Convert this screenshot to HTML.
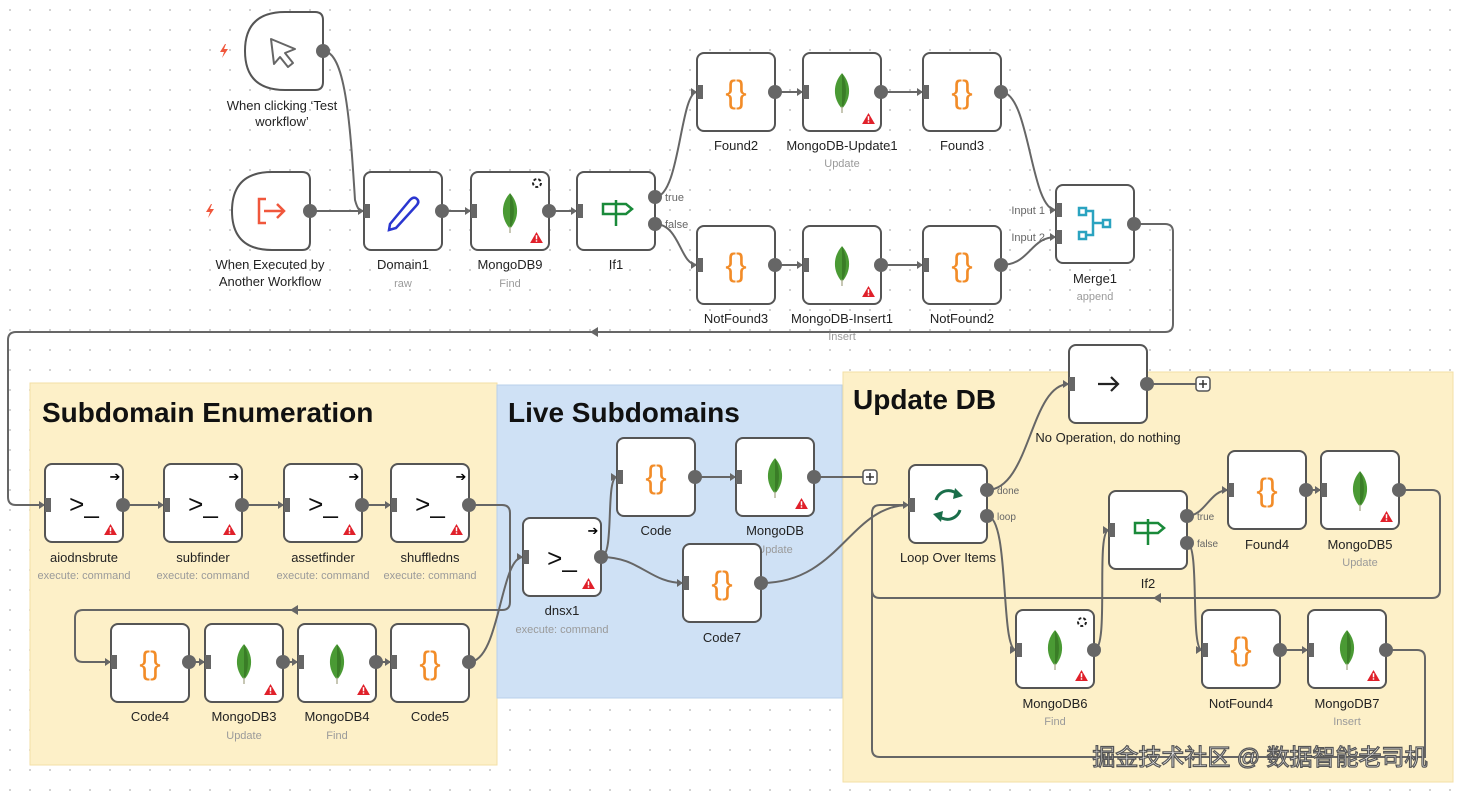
<!DOCTYPE html>
<html><head><meta charset="utf-8"><style>
html,body{margin:0;padding:0;background:#fff}
svg{display:block}
text{font-family:"Liberation Sans",sans-serif}
.l{font-size:13px;fill:#222;text-anchor:middle}
.s{font-size:11px;fill:#9a9a9a;text-anchor:middle}
.h{font-size:11px;fill:#666}
.n{fill:#fff;stroke:#555;stroke-width:2}
.e{fill:none;stroke:#666;stroke-width:2}
.o{fill:#666}
.c{font-size:32px;fill:#f28c28;text-anchor:middle}
.t{font-size:26px;fill:#111;text-anchor:middle}
.g{font-size:28px;fill:#111;font-weight:bold}
</style></head><body>
<svg width="1462" height="793" viewBox="0 0 1462 793" xmlns="http://www.w3.org/2000/svg">
<defs>
<pattern id="dots" width="20" height="20" patternUnits="userSpaceOnUse"><circle cx="10" cy="10" r="1" fill="#c4c4c4"/></pattern>
<symbol id="leaf" viewBox="0 0 20 40"><path d="M10 2 C19 12 19 26 10 36 C1 26 1 12 10 2Z" fill="#4a9a34"/><path d="M10 2 C15 12 15 26 10 36Z" fill="#3a7d27"/><line x1="10" y1="34" x2="10" y2="40" stroke="#b8b8a0" stroke-width="1.5"/></symbol>
<symbol id="warn" viewBox="0 0 14 12"><path d="M7 0 L14 12 L0 12Z" fill="#e0202a"/><rect x="6.2" y="3.5" width="1.6" height="4.5" fill="#fff"/><rect x="6.2" y="9" width="1.6" height="1.6" fill="#fff"/></symbol>
<symbol id="inp" viewBox="0 0 12 14"><path d="M0 3 L6 7 L0 11Z" fill="#666"/><rect x="6" y="0" width="6" height="14" fill="#666"/></symbol>
<symbol id="bolt" viewBox="0 0 10 14"><path d="M6 0 L1 8 L5 8 L3 14 L9 5 L5 5 L7 0Z" fill="#f0573c"/></symbol>
</defs>
<rect width="1462" height="793" fill="url(#dots)"/>
<rect x="30" y="383" width="467" height="382" fill="#fdf0c8" stroke="#f3dfa6"/>
<rect x="497" y="385" width="345" height="313" fill="#cfe1f5" stroke="#b9d0ea"/>
<rect x="843" y="372" width="610" height="410" fill="#fdf0c8" stroke="#f3dfa6"/>
<text x="42" y="422" class="g">Subdomain Enumeration</text>
<text x="508" y="422" class="g">Live Subdomains</text>
<text x="853" y="409" class="g">Update DB</text>

<g class="e">
<path d="M323 51 C345 51 350 120 355 200 C358 211 360 211 364 211"/>
<path d="M310 211 L364 211"/>
<path d="M442 211 L471 211"/>
<path d="M549 211 L577 211"/>
<path d="M655 197 C680 197 680 92 697 92"/>
<path d="M655 224 C680 224 680 265 697 265"/>
<path d="M775 92 L803 92"/><path d="M881 92 L923 92"/>
<path d="M775 265 L803 265"/><path d="M881 265 L923 265"/>
<path d="M1001 92 C1030 92 1030 210 1056 210"/>
<path d="M1001 265 C1030 265 1030 237 1056 237"/>
<path d="M1134 224 L1165 224 Q1173 224 1173 232 L1173 324 Q1173 332 1165 332 L16 332 Q8 332 8 340 L8 497 Q8 505 16 505 L45 505"/>
<path d="M123 505 L164 505"/><path d="M242 505 L284 505"/><path d="M362 505 L391 505"/>
<path d="M469 505 L502 505 Q510 505 510 513 L510 602 Q510 610 502 610 L83 610 Q75 610 75 618 L75 654 Q75 662 83 662 L111 662"/>
<path d="M189 662 L205 662"/><path d="M283 662 L298 662"/><path d="M376 662 L391 662"/>
<path d="M469 662 C500 662 500 557 523 557"/>
<path d="M601 557 C615 557 605 477 617 477"/>
<path d="M601 557 C640 557 650 583 683 583"/>
<path d="M695 477 L736 477"/>
<path d="M814 477 L863 477"/>
<path d="M761 583 C840 583 850 505 909 505"/>
<path d="M987 490 C1030 490 1030 384 1069 384"/>
<path d="M1147 384 L1196 384"/>
<path d="M987 516 C1010 516 1000 650 1016 650"/>
<path d="M1094 650 C1110 650 1095 530 1109 530"/>
<path d="M1187 516 C1205 516 1210 490 1228 490"/>
<path d="M1187 543 C1200 543 1190 650 1202 650"/>
<path d="M1306 490 L1321 490"/>
<path d="M1280 650 L1308 650"/>
<path d="M1399 490 L1432 490 Q1440 490 1440 498 L1440 590 Q1440 598 1432 598 L880 598 Q872 598 872 590 L872 513 Q872 505 880 505 L909 505"/>
<path d="M1386 650 L1417 650 Q1425 650 1425 658 L1425 757 L880 757 Q872 757 872 749 L872 513"/>
</g>
<g fill="#666">
<path d="M590 332 L598 327 L598 337Z"/><path d="M290 610 L298 605 L298 615Z"/><path d="M1153 598 L1161 593 L1161 603Z"/>
</g>
<g fill="#fff" stroke="#555" stroke-width="1.5"><rect x="863" y="470" width="14" height="14" rx="3"/><rect x="1196" y="377" width="14" height="14" rx="3"/></g>
<g stroke="#333" stroke-width="1.5"><path d="M870 473v8M866 477h8M1203 380v8M1199 384h8"/></g>

<path class="n" d="M285 12 L315 12 Q323 12 323 20 L323 82 Q323 90 315 90 L285 90 Q245 90 245 51 Q245 12 285 12Z"/>
<path d="M271 39 L295 49 L285 53 L293 63 L288 67 L280 57 L274 64Z" fill="none" stroke="#666" stroke-width="2" stroke-linejoin="round"/>
<use href="#bolt" x="219" y="44" width="10" height="14"/>
<text x="282" y="110" class="l">When clicking ‘Test</text><text x="282" y="126" class="l">workflow’</text>
<path class="n" d="M272 172 L302 172 Q310 172 310 180 L310 242 Q310 250 302 250 L272 250 Q232 250 232 211 Q232 172 272 172Z"/>
<path d="M266 199 L259 199 L259 223 L266 223 M264 211 L283 211 M277 204 L284 211 L277 218" fill="none" stroke="#f0573c" stroke-width="2.5"/>
<use href="#bolt" x="205" y="204" width="10" height="14"/>
<text x="270" y="269" class="l">When Executed by</text><text x="270" y="286" class="l">Another Workflow</text>

<g>
<rect class="n" x="364" y="172" width="78" height="78" rx="7"/>
<path d="M390 224 L410 200 Q414 196 417 199 Q420 202 416 206 L396 228 L389 230Z" fill="none" stroke="#2a36d0" stroke-width="2.5"/>
<text x="403" y="269" class="l">Domain1</text><text x="403" y="287" class="s">raw</text>

<rect class="n" x="471" y="172" width="78" height="78" rx="7"/><use href="#leaf" x="498" y="191" width="24" height="42"/><use href="#warn" x="530" y="232" width="13" height="11"/>
<circle cx="537" cy="183" r="4" fill="none" stroke="#222" stroke-width="2" stroke-dasharray="3 2"/>
<text x="510" y="269" class="l">MongoDB9</text><text x="510" y="287" class="s">Find</text>

<rect class="n" x="577" y="172" width="78" height="78" rx="7"/>
<path d="M603 204 L626 204 L632 209 L626 214 L603 214Z M616 200 V226" fill="none" stroke="#1a8a3a" stroke-width="2.5"/>
<text x="616" y="269" class="l">If1</text>
<text x="665" y="201" class="h">true</text><text x="665" y="228" class="h">false</text>

<rect class="n" x="697" y="53" width="78" height="78" rx="7"/><text x="736" y="103" class="c">{}</text><text x="736" y="150" class="l">Found2</text>
<rect class="n" x="803" y="53" width="78" height="78" rx="7"/><use href="#leaf" x="830" y="71" width="24" height="42"/><use href="#warn" x="862" y="113" width="13" height="11"/><text x="842" y="150" class="l">MongoDB-Update1</text><text x="842" y="167" class="s">Update</text>
<rect class="n" x="923" y="53" width="78" height="78" rx="7"/><text x="962" y="103" class="c">{}</text><text x="962" y="150" class="l">Found3</text>
<rect class="n" x="697" y="226" width="78" height="78" rx="7"/><text x="736" y="276" class="c">{}</text><text x="736" y="323" class="l">NotFound3</text>
<rect class="n" x="803" y="226" width="78" height="78" rx="7"/><use href="#leaf" x="830" y="244" width="24" height="42"/><use href="#warn" x="862" y="286" width="13" height="11"/><text x="842" y="323" class="l">MongoDB-Insert1</text><text x="842" y="340" class="s">Insert</text>
<rect class="n" x="923" y="226" width="78" height="78" rx="7"/><text x="962" y="276" class="c">{}</text><text x="962" y="323" class="l">NotFound2</text>

<rect class="n" x="1056" y="185" width="78" height="78" rx="7"/>
<g fill="none" stroke="#2aa3c0" stroke-width="2.5"><rect x="1079" y="208" width="7" height="7"/><rect x="1079" y="232" width="7" height="7"/><rect x="1103" y="220" width="7" height="7"/><path d="M1086 211 H1093 V235 H1086 M1093 223 H1103"/></g>
<text x="1095" y="283" class="l">Merge1</text><text x="1095" y="300" class="s">append</text>
<text x="1045" y="214" class="h" text-anchor="end">Input 1</text><text x="1045" y="241" class="h" text-anchor="end">Input 2</text>

<rect class="n" x="45" y="464" width="78" height="78" rx="7"/><text x="84" y="513" class="t">&gt;_</text><text x="115" y="481" font-size="13" text-anchor="middle">➔</text><use href="#warn" x="104" y="524" width="13" height="11"/><text x="84" y="562" class="l">aiodnsbrute</text><text x="84" y="579" class="s">execute: command</text>
<rect class="n" x="164" y="464" width="78" height="78" rx="7"/><text x="203" y="513" class="t">&gt;_</text><text x="234" y="481" font-size="13" text-anchor="middle">➔</text><use href="#warn" x="223" y="524" width="13" height="11"/><text x="203" y="562" class="l">subfinder</text><text x="203" y="579" class="s">execute: command</text>
<rect class="n" x="284" y="464" width="78" height="78" rx="7"/><text x="323" y="513" class="t">&gt;_</text><text x="354" y="481" font-size="13" text-anchor="middle">➔</text><use href="#warn" x="343" y="524" width="13" height="11"/><text x="323" y="562" class="l">assetfinder</text><text x="323" y="579" class="s">execute: command</text>
<rect class="n" x="391" y="464" width="78" height="78" rx="7"/><text x="430" y="513" class="t">&gt;_</text><text x="461" y="481" font-size="13" text-anchor="middle">➔</text><use href="#warn" x="450" y="524" width="13" height="11"/><text x="430" y="562" class="l">shuffledns</text><text x="430" y="579" class="s">execute: command</text>
<rect class="n" x="523" y="518" width="78" height="78" rx="7"/><text x="562" y="567" class="t">&gt;_</text><text x="593" y="535" font-size="13" text-anchor="middle">➔</text><use href="#warn" x="582" y="578" width="13" height="11"/><text x="562" y="615" class="l">dnsx1</text><text x="562" y="633" class="s">execute: command</text>

<rect class="n" x="111" y="624" width="78" height="78" rx="7"/><text x="150" y="674" class="c">{}</text><text x="150" y="721" class="l">Code4</text>
<rect class="n" x="205" y="624" width="78" height="78" rx="7"/><use href="#leaf" x="232" y="642" width="24" height="42"/><use href="#warn" x="264" y="684" width="13" height="11"/><text x="244" y="721" class="l">MongoDB3</text><text x="244" y="739" class="s">Update</text>
<rect class="n" x="298" y="624" width="78" height="78" rx="7"/><use href="#leaf" x="325" y="642" width="24" height="42"/><use href="#warn" x="357" y="684" width="13" height="11"/><text x="337" y="721" class="l">MongoDB4</text><text x="337" y="739" class="s">Find</text>
<rect class="n" x="391" y="624" width="78" height="78" rx="7"/><text x="430" y="674" class="c">{}</text><text x="430" y="721" class="l">Code5</text>

<rect class="n" x="617" y="438" width="78" height="78" rx="7"/><text x="656" y="488" class="c">{}</text><text x="656" y="535" class="l">Code</text>
<rect class="n" x="736" y="438" width="78" height="78" rx="7"/><use href="#leaf" x="763" y="456" width="24" height="42"/><use href="#warn" x="795" y="498" width="13" height="11"/><text x="775" y="535" class="l">MongoDB</text><text x="775" y="553" class="s">Update</text>
<rect class="n" x="683" y="544" width="78" height="78" rx="7"/><text x="722" y="594" class="c">{}</text><text x="722" y="642" class="l">Code7</text>

<rect class="n" x="1069" y="345" width="78" height="78" rx="7"/><path d="M1098 384 H1118 M1111 377 L1118 384 L1111 391" fill="none" stroke="#222" stroke-width="2.2"/><text x="1108" y="442" class="l">No Operation, do nothing</text>
<rect class="n" x="909" y="465" width="78" height="78" rx="7"/>
<g fill="none" stroke="#1a6e4a" stroke-width="3"><path d="M936 500 A13 13 0 0 1 959 496"/><path d="M960 510 A13 13 0 0 1 937 514"/></g>
<path d="M955 488 L963 496 L953 499Z M941 522 L933 514 L943 511Z" fill="#1a6e4a"/>
<text x="948" y="562" class="l">Loop Over Items</text>
<text x="997" y="494" class="h" style="font-size:10px">done</text><text x="997" y="520" class="h" style="font-size:10px">loop</text>

<rect class="n" x="1109" y="491" width="78" height="78" rx="7"/>
<path d="M1135 523 L1158 523 L1164 528 L1158 533 L1135 533Z M1148 519 V545" fill="none" stroke="#1a8a3a" stroke-width="2.5"/>
<text x="1148" y="588" class="l">If2</text>
<text x="1197" y="520" class="h" style="font-size:10px">true</text><text x="1197" y="547" class="h" style="font-size:10px">false</text>

<rect class="n" x="1228" y="451" width="78" height="78" rx="7"/><text x="1267" y="501" class="c">{}</text><text x="1267" y="549" class="l">Found4</text>
<rect class="n" x="1321" y="451" width="78" height="78" rx="7"/><use href="#leaf" x="1348" y="469" width="24" height="42"/><use href="#warn" x="1380" y="511" width="13" height="11"/><text x="1360" y="549" class="l">MongoDB5</text><text x="1360" y="566" class="s">Update</text>
<rect class="n" x="1016" y="610" width="78" height="78" rx="7"/><use href="#leaf" x="1043" y="628" width="24" height="42"/><use href="#warn" x="1075" y="670" width="13" height="11"/><circle cx="1082" cy="622" r="4" fill="none" stroke="#222" stroke-width="2" stroke-dasharray="3 2"/><text x="1055" y="708" class="l">MongoDB6</text><text x="1055" y="725" class="s">Find</text>
<rect class="n" x="1202" y="610" width="78" height="78" rx="7"/><text x="1241" y="660" class="c">{}</text><text x="1241" y="708" class="l">NotFound4</text>
<rect class="n" x="1308" y="610" width="78" height="78" rx="7"/><use href="#leaf" x="1335" y="628" width="24" height="42"/><use href="#warn" x="1367" y="670" width="13" height="11"/><text x="1347" y="708" class="l">MongoDB7</text><text x="1347" y="725" class="s">Insert</text>
</g>

<g class="o">
<circle cx="323" cy="51" r="7"/><circle cx="310" cy="211" r="7"/><circle cx="442" cy="211" r="7"/><circle cx="549" cy="211" r="7"/>
<circle cx="655" cy="197" r="7"/><circle cx="655" cy="224" r="7"/>
<circle cx="775" cy="92" r="7"/><circle cx="881" cy="92" r="7"/><circle cx="1001" cy="92" r="7"/>
<circle cx="775" cy="265" r="7"/><circle cx="881" cy="265" r="7"/><circle cx="1001" cy="265" r="7"/>
<circle cx="1134" cy="224" r="7"/>
<circle cx="123" cy="505" r="7"/><circle cx="242" cy="505" r="7"/><circle cx="362" cy="505" r="7"/><circle cx="469" cy="505" r="7"/>
<circle cx="189" cy="662" r="7"/><circle cx="283" cy="662" r="7"/><circle cx="376" cy="662" r="7"/><circle cx="469" cy="662" r="7"/>
<circle cx="601" cy="557" r="7"/><circle cx="695" cy="477" r="7"/><circle cx="814" cy="477" r="7"/><circle cx="761" cy="583" r="7"/>
<circle cx="1147" cy="384" r="7"/><circle cx="987" cy="490" r="7"/><circle cx="987" cy="516" r="7"/>
<circle cx="1187" cy="516" r="7"/><circle cx="1187" cy="543" r="7"/><circle cx="1306" cy="490" r="7"/><circle cx="1399" cy="490" r="7"/>
<circle cx="1094" cy="650" r="7"/><circle cx="1280" cy="650" r="7"/><circle cx="1386" cy="650" r="7"/>
</g>
<g>
<use href="#inp" x="358" y="204" width="12" height="14"/><use href="#inp" x="465" y="204" width="12" height="14"/><use href="#inp" x="571" y="204" width="12" height="14"/>
<use href="#inp" x="691" y="85" width="12" height="14"/><use href="#inp" x="797" y="85" width="12" height="14"/><use href="#inp" x="917" y="85" width="12" height="14"/>
<use href="#inp" x="691" y="258" width="12" height="14"/><use href="#inp" x="797" y="258" width="12" height="14"/><use href="#inp" x="917" y="258" width="12" height="14"/>
<use href="#inp" x="1050" y="203" width="12" height="14"/><use href="#inp" x="1050" y="230" width="12" height="14"/>
<use href="#inp" x="39" y="498" width="12" height="14"/><use href="#inp" x="158" y="498" width="12" height="14"/><use href="#inp" x="278" y="498" width="12" height="14"/><use href="#inp" x="385" y="498" width="12" height="14"/>
<use href="#inp" x="105" y="655" width="12" height="14"/><use href="#inp" x="199" y="655" width="12" height="14"/><use href="#inp" x="292" y="655" width="12" height="14"/><use href="#inp" x="385" y="655" width="12" height="14"/>
<use href="#inp" x="517" y="550" width="12" height="14"/><use href="#inp" x="611" y="470" width="12" height="14"/><use href="#inp" x="730" y="470" width="12" height="14"/><use href="#inp" x="677" y="576" width="12" height="14"/>
<use href="#inp" x="1063" y="377" width="12" height="14"/><use href="#inp" x="903" y="498" width="12" height="14"/><use href="#inp" x="1103" y="523" width="12" height="14"/>
<use href="#inp" x="1222" y="483" width="12" height="14"/><use href="#inp" x="1315" y="483" width="12" height="14"/>
<use href="#inp" x="1010" y="643" width="12" height="14"/><use href="#inp" x="1196" y="643" width="12" height="14"/><use href="#inp" x="1302" y="643" width="12" height="14"/>
</g>
<text x="1260" y="765" font-size="23" text-anchor="middle" fill="#fff" stroke="#555" stroke-width="1.2" style="font-family:'Liberation Sans','Noto Sans CJK SC',sans-serif">掘金技术社区 @ 数据智能老司机</text>
</svg>
</body></html>
